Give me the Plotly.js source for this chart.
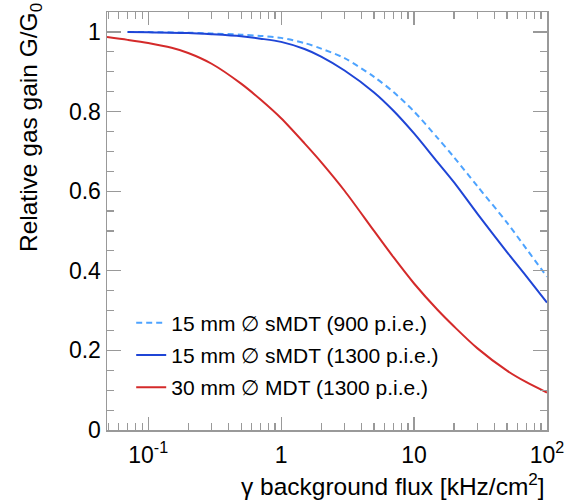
<!DOCTYPE html>
<html>
<head>
<meta charset="utf-8">
<script src="https://cdn.plot.ly/plotly-3.0.1.min.js"></script>
<style>html,body{margin:0;padding:0;background:#fff;}#chart{width:565px;height:504px;}</style>
</head>
<body>
<div id="chart"></div>
<script>
// Data
const fluxRed = [0.049, 0.07, 0.1, 0.15, 0.2, 0.3, 0.5, 0.7, 1, 1.5, 2, 3, 5, 7, 10, 15, 20, 30, 50, 70, 100];
const gainRed = [0.987, 0.980, 0.972, 0.960, 0.947, 0.920, 0.870, 0.830, 0.783, 0.720, 0.673, 0.601, 0.500, 0.434, 0.368, 0.302, 0.260, 0.205, 0.149, 0.120, 0.094];

const fluxBlue = [0.07, 0.1, 0.2, 0.3, 0.5, 0.7, 1, 1.5, 2, 3, 5, 7, 10, 15, 20, 30, 50, 70, 100];
const gainSolid = [1.0, 0.999, 0.997, 0.994, 0.989, 0.983, 0.975, 0.957, 0.938, 0.903, 0.848, 0.802, 0.745, 0.673, 0.622, 0.543, 0.447, 0.386, 0.320];
const gainDashed = [1.0, 0.9995, 0.998, 0.996, 0.993, 0.990, 0.985, 0.972, 0.958, 0.934, 0.887, 0.849, 0.800, 0.734, 0.685, 0.612, 0.521, 0.455, 0.385];

const seriesNames = ["15 mm \u2205 sMDT (900 p.i.e.)", "15 mm \u2205 sMDT (1300 p.i.e.)", "30 mm \u2205 MDT (1300 p.i.e.)"];

const xTickVals = [0.1, 1, 10, 100];
const xTickText = ["10<sup>-1</sup>", "1", "10", "10<sup>2</sup>"];
const xMinorVals = [0.05,0.06,0.07,0.08,0.09,0.2,0.3,0.4,0.5,0.6,0.7,0.8,0.9,2,3,4,5,6,7,8,9,20,30,40,50,60,70,80,90];
const yTickVals = [0, 0.2, 0.4, 0.6, 0.8, 1];
const yTickText = ["0", "0.2", "0.4", "0.6", "0.8", "1"];

const font = "Liberation Sans, Arial, sans-serif";

const traces = [
  {x: fluxBlue, y: gainDashed, name: seriesNames[0], legendgroup: "a", mode: "lines", line: {color: "#4da3ff", width: 2, dash: "6px,4px", shape: "spline", smoothing: 0.8}},
  {x: fluxBlue, y: gainSolid, name: seriesNames[1], legendgroup: "b", mode: "lines", line: {color: "#1f45d6", width: 2, shape: "spline", smoothing: 0.8}},
  {x: fluxRed, y: gainRed, name: seriesNames[2], legendgroup: "c", mode: "lines", line: {color: "#d42a2a", width: 2, shape: "spline", smoothing: 0.8}}
];

const layout = {
  width: 565, height: 504,
  margin: {l: 107, r: 18, t: 12, b: 74},
  paper_bgcolor: "#fff", plot_bgcolor: "#fff",
  font: {family: font, size: 23, color: "#000"},
  showlegend: true,
  legend: {x: 0.055, y: 0.305, xanchor: "left", yanchor: "top", bgcolor: "rgba(0,0,0,0)",
           font: {family: font, size: 21, color: "#000"}, itemwidth: 30,
           traceorder: "grouped", tracegroupgap: 2},
  xaxis: {
    type: "log", range: [Math.log10(0.049), 2],
    tickmode: "array", tickvals: xTickVals, ticktext: xTickText,
    ticks: "inside", ticklen: 13, tickwidth: 1.2, tickcolor: "#999",
    minor: {tickmode: "array", tickvals: xMinorVals, ticks: "inside", ticklen: 7, tickwidth: 1.2, tickcolor: "#999"},
    showline: true, linecolor: "#999", linewidth: 1.5, mirror: "allticks",
    showgrid: false, zeroline: false, ticklabelstandoff: 4,
    tickfont: {family: font, size: 23, color: "#000"}
  },
  yaxis: {
    range: [0, 1.05],
    tickmode: "array", tickvals: yTickVals, ticktext: yTickText,
    ticks: "inside", ticklen: 14, tickwidth: 1.2, tickcolor: "#999",
    minor: {dtick: 0.05, ticks: "inside", ticklen: 7, tickwidth: 1.2, tickcolor: "#999"},
    showline: true, linecolor: "#999", linewidth: 1.5, mirror: "allticks",
    showgrid: false, zeroline: true, zerolinecolor: "#000", zerolinewidth: 2.5,
    tickfont: {family: font, size: 23, color: "#000"}
  },
  annotations: [
    {text: "\u03b3 background flux [kHz/cm<sup>2</sup>]", xref: "paper", yref: "paper",
     x: 1, y: -0.13, xanchor: "right", yanchor: "middle", showarrow: false,
     font: {family: font, size: 24.5, color: "#000"}},
    {text: "Relative gas gain G/G<sub>0</sub>", xref: "paper", yref: "paper",
     x: -0.175, y: 1.025, xanchor: "center", yanchor: "top", textangle: -90, showarrow: false,
     font: {family: font, size: 24.5, color: "#000"}}
  ]
};

Plotly.newPlot("chart", traces, layout, {displayModeBar: false, staticPlot: true});
</script>
</body>
</html>
